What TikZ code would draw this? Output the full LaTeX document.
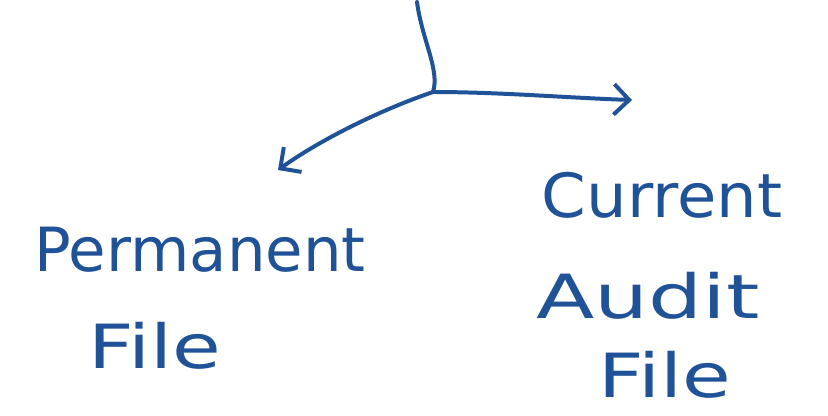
\documentclass[tikz,border=0pt]{standalone}
\usepackage{fontspec}
\setmainfont{DejaVu Sans}
\usetikzlibrary{arrows.meta}
\definecolor{ink}{HTML}{1F5296}
\tikzset{
  pen/.style={draw=ink, line width=3.4pt, line cap=round, line join=round},
  arr/.style={pen, -{Straight Barb[length=13pt,width=26pt,line width=3.4pt]}},
  hand/.style={text=ink, font=\fontsize{52}{62}\selectfont, inner sep=0pt, anchor=center}
}
\begin{document}
\begin{tikzpicture}[x=0.03cm,y=-0.03cm]
\useasboundingbox (0,0) rectangle (828,416);
\coordinate (t) at (417,2);
\coordinate (j) at (433,92);
\coordinate (l) at (278,170);
\coordinate (r) at (632,100);
\draw[pen] (t) .. controls (422,40) and (440,70) .. (j);
\draw[arr] (j) .. controls (380,110) and (320,140) .. (l);
\draw[arr] (j) .. controls (500,92) and (570,98) .. (r);
\node[hand] (perm) at (200,250) {Permanent};
\node[hand, xscale=1.3, transform shape] (pfile) at (155,346) {File};
\node[hand, xscale=1.05, transform shape] (curr) at (662,195) {Current};
\node[hand, xscale=1.4, transform shape] (audit) at (648,296) {Audit};
\node[hand, xscale=1.3, transform shape] (cfile) at (665,375) {File};
\end{tikzpicture}
\end{document}
